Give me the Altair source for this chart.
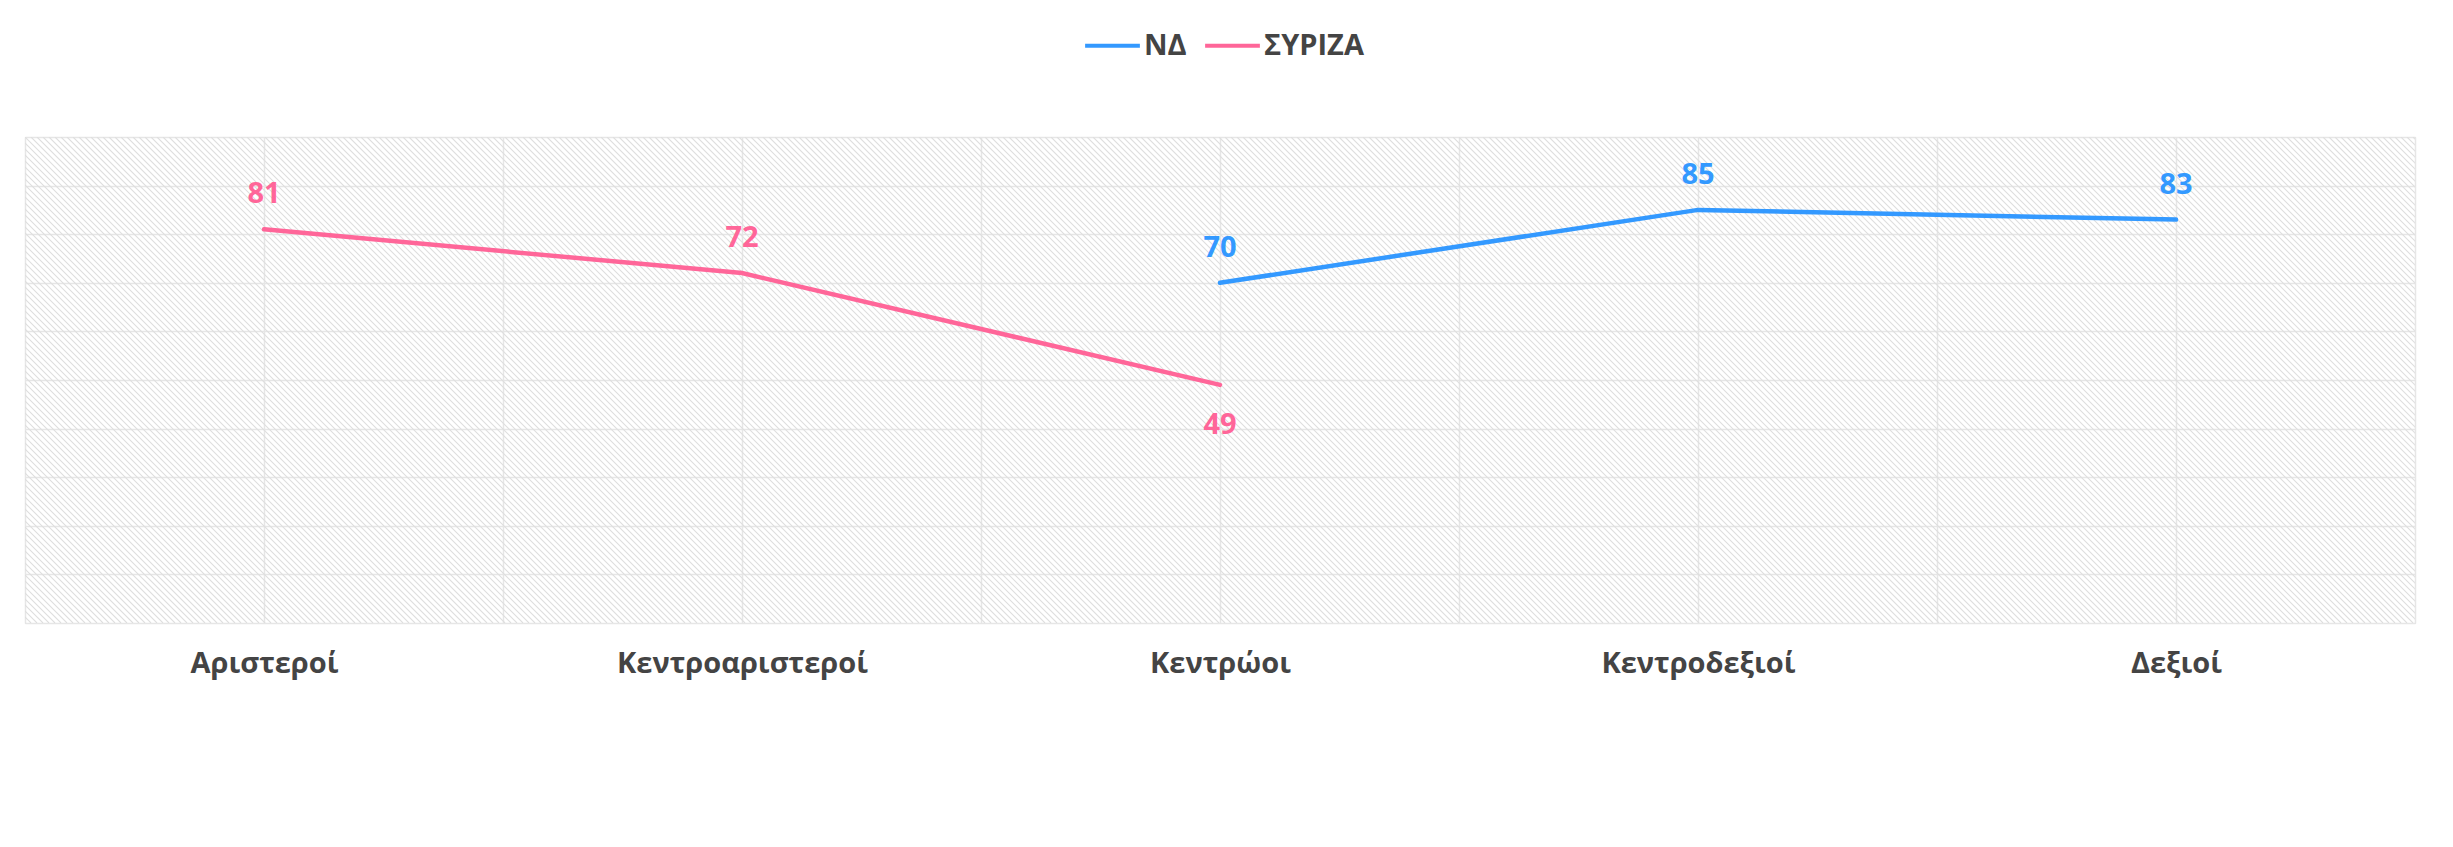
import json
import altair as alt
import pandas as pd

# ---- data ----
categories = ["Αριστεροί", "Κεντροαριστεροί", "Κεντρώοι", "Κεντροδεξιοί", "Δεξιοί"]
series_names = ["ΝΔ", "ΣΥΡΙΖΑ"]
nd_values = [None, None, 70, 85, 83]
syriza_values = [81, 72, 49, None, None]
series_colors = ["#3399FF", "#FF6699"]

rows = []
for name, vals in zip(series_names, [nd_values, syriza_values]):
    for i, (cat, v) in enumerate(zip(categories, vals)):
        if v is not None:
            rows.append({"series": name, "category": cat, "pos": 2 * i + 1, "value": v})
df = pd.DataFrame(rows)

W, H = 2390, 486
FONT = "Open Sans"
cats_js = json.dumps(categories, ensure_ascii=False)

xscale = alt.Scale(domain=[0, 2 * len(categories)], nice=False, zero=False)
yscale = alt.Scale(domain=[0, 100], nice=False)

xaxis = alt.Axis(
    values=list(range(0, 2 * len(categories) + 1)),
    labelExpr=f"datum.value % 2 == 1 ? {cats_js}[(datum.value - 1) / 2] : ''",
    grid=True, gridColor="#e6e6e6", gridWidth=1.5,
    ticks=False, domain=False, title=None,
    labelFont=FONT, labelFontSize=29, labelFontWeight="bold", labelColor="#444444",
    labelPadding=26, labelLimit=0, labelOverlap=False,
)
yaxis = alt.Axis(
    values=list(range(0, 101, 10)), grid=True, gridColor="#e6e6e6", gridWidth=1.5,
    labels=False, ticks=False, domain=False, title=None,
)

color = alt.Color(
    "series:N",
    scale=alt.Scale(domain=series_names, range=series_colors),
    legend=alt.Legend(
        title=None, orient="none", direction="horizontal",
        legendX=1058, legendY=-121,
        symbolType="stroke", symbolSize=3000, symbolStrokeWidth=4,
        labelFont=FONT, labelFontSize=29, labelFontWeight="bold", labelColor="#444444",
        labelOffset=2, columnPadding=10, padding=0,
    ),
)

# hatch background (decorative diagonal stripes)
step = 6.0
n_lines = int((W + H) / step) + 2
hatch = (
    alt.Chart(alt.sequence(0, n_lines, as_="k"))
    .transform_calculate(
        hx=f"(-{H} + datum.k * {step}) * 10 / {W}",
        hx2=f"(datum.k * {step}) * 10 / {W}",
    )
    .mark_rule(color="#dedede", strokeWidth=1.1, clip=True)
    .encode(
        x=alt.X("hx:Q", scale=xscale, axis=xaxis),
        x2="hx2:Q",
        y=alt.value(0),
        y2=alt.value(H),
    )
)

base = alt.Chart(df)

lines = base.mark_line(strokeWidth=4.5, strokeCap="round").encode(
    x=alt.X("pos:Q", scale=xscale, axis=xaxis),
    y=alt.Y("value:Q", scale=yscale, axis=yaxis),
    color=color,
)

lab_base = base.transform_joinaggregate(maxv="max(value)", groupby=["category"]).transform_calculate(
    below="datum.value < datum.maxv"
)

text_color = alt.Color("series:N", scale=alt.Scale(domain=series_names, range=series_colors), legend=None)

labels_above = lab_base.transform_filter("!datum.below").mark_text(
    font=FONT, fontSize=29, fontWeight="bold", dy=-26, baseline="alphabetic"
).encode(
    x=alt.X("pos:Q", scale=xscale, axis=xaxis),
    y=alt.Y("value:Q", scale=yscale, axis=yaxis),
    text="value:Q",
    color=text_color,
)

labels_below = lab_base.transform_filter("datum.below").mark_text(
    font=FONT, fontSize=29, fontWeight="bold", dy=26, baseline="top"
).encode(
    x=alt.X("pos:Q", scale=xscale, axis=xaxis),
    y=alt.Y("value:Q", scale=yscale, axis=yaxis),
    text="value:Q",
    color=text_color,
)

chart = (
    alt.layer(hatch, lines, labels_above, labels_below)
    .properties(
        width=W, height=H,
        autosize=alt.AutoSizeParams(type="none"),
        padding={"left": 17, "top": 129, "right": 30, "bottom": 200},
    )
    .configure_view(stroke="#dddddd", strokeWidth=2, fill="white")
    .configure(background="white")
)

chart.save("out.html", embed_options={"renderer": "svg", "actions": False})
